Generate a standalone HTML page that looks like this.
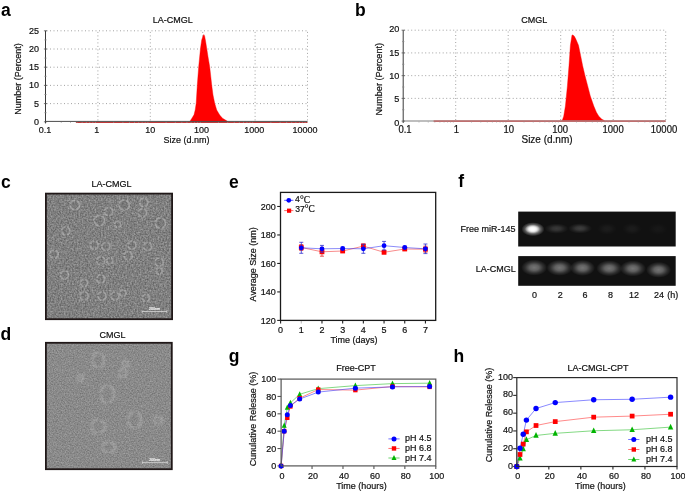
<!DOCTYPE html>
<html><head><meta charset="utf-8"><style>
html,body{margin:0;padding:0;background:#fff;}
svg{display:block;font-family:"Liberation Sans", sans-serif;will-change:transform;}

</style></head><body>
<svg width="685" height="493" viewBox="0 0 685 493">
<defs>
<filter id="noiseC" x="0" y="0" width="100%" height="100%" color-interpolation-filters="sRGB">
<feTurbulence type="fractalNoise" baseFrequency="0.62" numOctaves="2" seed="3" result="t"/>
<feColorMatrix type="matrix" values="0.38 0 0 0 0.31  0.38 0 0 0 0.31  0.38 0 0 0 0.31  0 0 0 0 1" in="t" result="n0"/>
<feGaussianBlur in="n0" stdDeviation="0.45" result="n"/>
<feComposite in="n" in2="SourceGraphic" operator="in"/>
</filter>
<filter id="noiseD" x="0" y="0" width="100%" height="100%" color-interpolation-filters="sRGB">
<feTurbulence type="fractalNoise" baseFrequency="0.75" numOctaves="2" seed="7" result="t"/>
<feColorMatrix type="matrix" values="0.28 0 0 0 0.4  0.28 0 0 0 0.4  0.28 0 0 0 0.4  0 0 0 0 1" in="t" result="n0"/>
<feGaussianBlur in="n0" stdDeviation="0.45" result="n"/>
<feComposite in="n" in2="SourceGraphic" operator="in"/>
</filter>
<filter id="blur04" x="-50%" y="-50%" width="200%" height="200%"><feGaussianBlur stdDeviation="0.45"/></filter>
<filter id="blur05" x="-50%" y="-50%" width="200%" height="200%"><feGaussianBlur stdDeviation="0.85"/></filter>
<radialGradient id="band"><stop offset="0" stop-color="#fff" stop-opacity="1"/><stop offset="0.35" stop-color="#fff" stop-opacity="0.8"/><stop offset="0.7" stop-color="#fff" stop-opacity="0.3"/><stop offset="1" stop-color="#fff" stop-opacity="0"/></radialGradient>
<filter id="blur2" x="-50%" y="-80%" width="200%" height="260%"><feGaussianBlur stdDeviation="2.2"/></filter>
</defs>
<rect width="685" height="493" fill="#fff"/>
<text transform="translate(1.00 15.60)" font-size="17.5" text-anchor="start" font-weight="bold" fill="#000" stroke="#000" stroke-width="0" >a</text>
<text transform="translate(355.00 15.60)" font-size="17.5" text-anchor="start" font-weight="bold" fill="#000" stroke="#000" stroke-width="0" >b</text>
<text transform="translate(1.00 187.80)" font-size="17.5" text-anchor="start" font-weight="bold" fill="#000" stroke="#000" stroke-width="0" >c</text>
<text transform="translate(0.50 339.90)" font-size="17.5" text-anchor="start" font-weight="bold" fill="#000" stroke="#000" stroke-width="0" >d</text>
<text transform="translate(229.00 187.70)" font-size="17.5" text-anchor="start" font-weight="bold" fill="#000" stroke="#000" stroke-width="0" >e</text>
<text transform="translate(458.30 187.40)" font-size="17.5" text-anchor="start" font-weight="bold" fill="#000" stroke="#000" stroke-width="0" >f</text>
<text transform="translate(228.80 361.60)" font-size="17.5" text-anchor="start" font-weight="bold" fill="#000" stroke="#000" stroke-width="0" >g</text>
<text transform="translate(453.50 361.70)" font-size="17.5" text-anchor="start" font-weight="bold" fill="#000" stroke="#000" stroke-width="0" >h</text>
<line x1="46.50" y1="103.60" x2="307.50" y2="103.60" stroke="#999" stroke-width="0.9" stroke-dasharray="1 2.5"/>
<line x1="46.50" y1="85.40" x2="307.50" y2="85.40" stroke="#999" stroke-width="0.9" stroke-dasharray="1 2.5"/>
<line x1="46.50" y1="67.20" x2="307.50" y2="67.20" stroke="#999" stroke-width="0.9" stroke-dasharray="1 2.5"/>
<line x1="46.50" y1="49.00" x2="307.50" y2="49.00" stroke="#999" stroke-width="0.9" stroke-dasharray="1 2.5"/>
<line x1="46.50" y1="30.80" x2="307.50" y2="30.80" stroke="#999" stroke-width="0.9" stroke-dasharray="1 2.5"/>
<line x1="97.90" y1="120.40" x2="97.90" y2="30.80" stroke="#999" stroke-width="0.9" stroke-dasharray="1 2.5"/>
<line x1="150.30" y1="120.40" x2="150.30" y2="30.80" stroke="#999" stroke-width="0.9" stroke-dasharray="1 2.5"/>
<line x1="202.70" y1="120.40" x2="202.70" y2="30.80" stroke="#999" stroke-width="0.9" stroke-dasharray="1 2.5"/>
<line x1="255.10" y1="120.40" x2="255.10" y2="30.80" stroke="#999" stroke-width="0.9" stroke-dasharray="1 2.5"/>
<line x1="307.50" y1="120.40" x2="307.50" y2="30.80" stroke="#999" stroke-width="0.9" stroke-dasharray="1 2.5"/>
<polyline points="190.00,121.80 190.30,120.70 191.90,118.30 194.00,114.80 195.20,110.00 196.20,103.30 197.30,85.00 198.70,66.70 200.50,48.30 201.70,40.00 203.00,36.00 203.80,34.60 204.60,36.00 205.60,41.20 206.70,48.30 208.00,56.70 209.70,66.70 210.80,76.70 211.70,85.00 213.00,95.00 214.70,103.30 216.70,110.00 219.70,115.00 222.50,118.30 226.70,120.80 228.00,121.80" fill="#ff0000" stroke="#ff0000" stroke-width="0.4" />
<line x1="45.50" y1="121.40" x2="307.50" y2="121.40" stroke="#4a4a4a" stroke-width="1.0" />
<line x1="75.88" y1="122.50" x2="307.50" y2="122.50" stroke="#c03838" stroke-width="1.0" />
<line x1="45.50" y1="30.80" x2="45.50" y2="123.40" stroke="#3a3a3a" stroke-width="1.0" />
<line x1="43.90" y1="121.80" x2="47.10" y2="121.80" stroke="#555" stroke-width="0.8" />
<line x1="44.30" y1="112.70" x2="46.70" y2="112.70" stroke="#888" stroke-width="0.7" />
<line x1="43.90" y1="103.60" x2="47.10" y2="103.60" stroke="#555" stroke-width="0.8" />
<line x1="44.30" y1="94.50" x2="46.70" y2="94.50" stroke="#888" stroke-width="0.7" />
<line x1="43.90" y1="85.40" x2="47.10" y2="85.40" stroke="#555" stroke-width="0.8" />
<line x1="44.30" y1="76.30" x2="46.70" y2="76.30" stroke="#888" stroke-width="0.7" />
<line x1="43.90" y1="67.20" x2="47.10" y2="67.20" stroke="#555" stroke-width="0.8" />
<line x1="44.30" y1="58.10" x2="46.70" y2="58.10" stroke="#888" stroke-width="0.7" />
<line x1="43.90" y1="49.00" x2="47.10" y2="49.00" stroke="#555" stroke-width="0.8" />
<line x1="44.30" y1="39.90" x2="46.70" y2="39.90" stroke="#888" stroke-width="0.7" />
<line x1="43.90" y1="30.80" x2="47.10" y2="30.80" stroke="#555" stroke-width="0.8" />
<line x1="61.27" y1="121.90" x2="61.27" y2="123.00" stroke="#999" stroke-width="0.6" />
<line x1="70.50" y1="121.90" x2="70.50" y2="123.00" stroke="#999" stroke-width="0.6" />
<line x1="77.05" y1="121.90" x2="77.05" y2="123.00" stroke="#999" stroke-width="0.6" />
<line x1="82.13" y1="121.90" x2="82.13" y2="123.00" stroke="#999" stroke-width="0.6" />
<line x1="86.28" y1="121.90" x2="86.28" y2="123.00" stroke="#999" stroke-width="0.6" />
<line x1="89.78" y1="121.90" x2="89.78" y2="123.00" stroke="#999" stroke-width="0.6" />
<line x1="92.82" y1="121.90" x2="92.82" y2="123.00" stroke="#999" stroke-width="0.6" />
<line x1="95.50" y1="121.90" x2="95.50" y2="123.00" stroke="#999" stroke-width="0.6" />
<line x1="113.67" y1="121.90" x2="113.67" y2="123.00" stroke="#999" stroke-width="0.6" />
<line x1="122.90" y1="121.90" x2="122.90" y2="123.00" stroke="#999" stroke-width="0.6" />
<line x1="129.45" y1="121.90" x2="129.45" y2="123.00" stroke="#999" stroke-width="0.6" />
<line x1="134.53" y1="121.90" x2="134.53" y2="123.00" stroke="#999" stroke-width="0.6" />
<line x1="138.68" y1="121.90" x2="138.68" y2="123.00" stroke="#999" stroke-width="0.6" />
<line x1="142.18" y1="121.90" x2="142.18" y2="123.00" stroke="#999" stroke-width="0.6" />
<line x1="145.22" y1="121.90" x2="145.22" y2="123.00" stroke="#999" stroke-width="0.6" />
<line x1="147.90" y1="121.90" x2="147.90" y2="123.00" stroke="#999" stroke-width="0.6" />
<line x1="166.07" y1="121.90" x2="166.07" y2="123.00" stroke="#999" stroke-width="0.6" />
<line x1="175.30" y1="121.90" x2="175.30" y2="123.00" stroke="#999" stroke-width="0.6" />
<line x1="181.85" y1="121.90" x2="181.85" y2="123.00" stroke="#999" stroke-width="0.6" />
<line x1="186.93" y1="121.90" x2="186.93" y2="123.00" stroke="#999" stroke-width="0.6" />
<line x1="191.08" y1="121.90" x2="191.08" y2="123.00" stroke="#999" stroke-width="0.6" />
<line x1="194.58" y1="121.90" x2="194.58" y2="123.00" stroke="#999" stroke-width="0.6" />
<line x1="197.62" y1="121.90" x2="197.62" y2="123.00" stroke="#999" stroke-width="0.6" />
<line x1="200.30" y1="121.90" x2="200.30" y2="123.00" stroke="#999" stroke-width="0.6" />
<line x1="218.47" y1="121.90" x2="218.47" y2="123.00" stroke="#999" stroke-width="0.6" />
<line x1="227.70" y1="121.90" x2="227.70" y2="123.00" stroke="#999" stroke-width="0.6" />
<line x1="234.25" y1="121.90" x2="234.25" y2="123.00" stroke="#999" stroke-width="0.6" />
<line x1="239.33" y1="121.90" x2="239.33" y2="123.00" stroke="#999" stroke-width="0.6" />
<line x1="243.48" y1="121.90" x2="243.48" y2="123.00" stroke="#999" stroke-width="0.6" />
<line x1="246.98" y1="121.90" x2="246.98" y2="123.00" stroke="#999" stroke-width="0.6" />
<line x1="250.02" y1="121.90" x2="250.02" y2="123.00" stroke="#999" stroke-width="0.6" />
<line x1="252.70" y1="121.90" x2="252.70" y2="123.00" stroke="#999" stroke-width="0.6" />
<line x1="270.87" y1="121.90" x2="270.87" y2="123.00" stroke="#999" stroke-width="0.6" />
<line x1="280.10" y1="121.90" x2="280.10" y2="123.00" stroke="#999" stroke-width="0.6" />
<line x1="286.65" y1="121.90" x2="286.65" y2="123.00" stroke="#999" stroke-width="0.6" />
<line x1="291.73" y1="121.90" x2="291.73" y2="123.00" stroke="#999" stroke-width="0.6" />
<line x1="295.88" y1="121.90" x2="295.88" y2="123.00" stroke="#999" stroke-width="0.6" />
<line x1="299.38" y1="121.90" x2="299.38" y2="123.00" stroke="#999" stroke-width="0.6" />
<line x1="302.42" y1="121.90" x2="302.42" y2="123.00" stroke="#999" stroke-width="0.6" />
<line x1="305.10" y1="121.90" x2="305.10" y2="123.00" stroke="#999" stroke-width="0.6" />
<text transform="translate(39.10 124.70) scale(1 1.08)" font-size="9" text-anchor="end" font-weight="normal" fill="#111" stroke="#111" stroke-width="0.2" >0</text>
<text transform="translate(39.10 106.50) scale(1 1.08)" font-size="9" text-anchor="end" font-weight="normal" fill="#111" stroke="#111" stroke-width="0.2" >5</text>
<text transform="translate(39.10 88.30) scale(1 1.08)" font-size="9" text-anchor="end" font-weight="normal" fill="#111" stroke="#111" stroke-width="0.2" >10</text>
<text transform="translate(39.10 70.10) scale(1 1.08)" font-size="9" text-anchor="end" font-weight="normal" fill="#111" stroke="#111" stroke-width="0.2" >15</text>
<text transform="translate(39.10 51.90) scale(1 1.08)" font-size="9" text-anchor="end" font-weight="normal" fill="#111" stroke="#111" stroke-width="0.2" >20</text>
<text transform="translate(39.10 33.70) scale(1 1.08)" font-size="9" text-anchor="end" font-weight="normal" fill="#111" stroke="#111" stroke-width="0.2" >25</text>
<text transform="translate(45.00 133.00) scale(1 1.08)" font-size="9" text-anchor="middle" font-weight="normal" fill="#111" stroke="#111" stroke-width="0.2" >0.1</text>
<text transform="translate(96.80 133.00) scale(1 1.08)" font-size="9" text-anchor="middle" font-weight="normal" fill="#111" stroke="#111" stroke-width="0.2" >1</text>
<text transform="translate(150.30 133.00) scale(1 1.08)" font-size="9" text-anchor="middle" font-weight="normal" fill="#111" stroke="#111" stroke-width="0.2" >10</text>
<text transform="translate(201.50 133.00) scale(1 1.08)" font-size="9" text-anchor="middle" font-weight="normal" fill="#111" stroke="#111" stroke-width="0.2" >100</text>
<text transform="translate(254.20 133.00) scale(1 1.08)" font-size="9" text-anchor="middle" font-weight="normal" fill="#111" stroke="#111" stroke-width="0.2" >1000</text>
<text transform="translate(305.00 133.00) scale(1 1.08)" font-size="9" text-anchor="middle" font-weight="normal" fill="#111" stroke="#111" stroke-width="0.2" >10000</text>
<text transform="translate(186.40 143.40) scale(1 1.08)" font-size="9" text-anchor="middle" font-weight="normal" fill="#111" stroke="#111" stroke-width="0.2" >Size (d.nm)</text>
<text transform="translate(172.80 23.20) scale(1 1.08)" font-size="9" text-anchor="middle" font-weight="normal" fill="#111" stroke="#111" stroke-width="0.2" >LA-CMGL</text>
<text transform="translate(21.40 79.10) rotate(-90) scale(1 1.08)" font-size="9" text-anchor="middle" font-weight="normal" fill="#111" stroke="#111" stroke-width="0.2" >Number (Percent)</text>
<line x1="404.20" y1="98.38" x2="665.70" y2="98.38" stroke="#999" stroke-width="0.9" stroke-dasharray="1 2.5"/>
<line x1="404.20" y1="75.65" x2="665.70" y2="75.65" stroke="#999" stroke-width="0.9" stroke-dasharray="1 2.5"/>
<line x1="404.20" y1="52.92" x2="665.70" y2="52.92" stroke="#999" stroke-width="0.9" stroke-dasharray="1 2.5"/>
<line x1="404.20" y1="30.20" x2="665.70" y2="30.20" stroke="#999" stroke-width="0.9" stroke-dasharray="1 2.5"/>
<line x1="455.70" y1="120.00" x2="455.70" y2="30.20" stroke="#999" stroke-width="0.9" stroke-dasharray="1 2.5"/>
<line x1="508.20" y1="120.00" x2="508.20" y2="30.20" stroke="#999" stroke-width="0.9" stroke-dasharray="1 2.5"/>
<line x1="560.70" y1="120.00" x2="560.70" y2="30.20" stroke="#999" stroke-width="0.9" stroke-dasharray="1 2.5"/>
<line x1="613.20" y1="120.00" x2="613.20" y2="30.20" stroke="#999" stroke-width="0.9" stroke-dasharray="1 2.5"/>
<line x1="665.70" y1="120.00" x2="665.70" y2="30.20" stroke="#999" stroke-width="0.9" stroke-dasharray="1 2.5"/>
<polyline points="561.80,121.10 562.30,120.30 563.70,116.30 565.40,106.10 567.40,85.90 569.00,65.60 570.40,45.30 572.00,35.10 572.40,34.90 574.00,35.80 575.60,38.60 578.50,45.30 580.60,55.40 582.60,65.60 585.00,75.70 587.70,85.90 590.30,96.00 593.80,106.10 596.40,112.20 598.80,116.30 601.90,119.30 603.90,120.30 604.80,121.10" fill="#ff0000" stroke="#ff0000" stroke-width="0.4" />
<line x1="403.20" y1="121.00" x2="665.70" y2="121.00" stroke="#a8a8a8" stroke-width="1.6" />
<line x1="433.64" y1="121.10" x2="665.70" y2="121.10" stroke="#c03838" stroke-width="1.0" />
<line x1="403.20" y1="30.20" x2="403.20" y2="123.00" stroke="#3a3a3a" stroke-width="1.0" />
<line x1="401.60" y1="121.10" x2="404.80" y2="121.10" stroke="#555" stroke-width="0.8" />
<line x1="402.00" y1="109.74" x2="404.40" y2="109.74" stroke="#888" stroke-width="0.7" />
<line x1="401.60" y1="98.38" x2="404.80" y2="98.38" stroke="#555" stroke-width="0.8" />
<line x1="402.00" y1="87.01" x2="404.40" y2="87.01" stroke="#888" stroke-width="0.7" />
<line x1="401.60" y1="75.65" x2="404.80" y2="75.65" stroke="#555" stroke-width="0.8" />
<line x1="402.00" y1="64.29" x2="404.40" y2="64.29" stroke="#888" stroke-width="0.7" />
<line x1="401.60" y1="52.92" x2="404.80" y2="52.92" stroke="#555" stroke-width="0.8" />
<line x1="402.00" y1="41.56" x2="404.40" y2="41.56" stroke="#888" stroke-width="0.7" />
<line x1="401.60" y1="30.20" x2="404.80" y2="30.20" stroke="#555" stroke-width="0.8" />
<line x1="419.00" y1="121.50" x2="419.00" y2="122.60" stroke="#999" stroke-width="0.6" />
<line x1="428.25" y1="121.50" x2="428.25" y2="122.60" stroke="#999" stroke-width="0.6" />
<line x1="434.81" y1="121.50" x2="434.81" y2="122.60" stroke="#999" stroke-width="0.6" />
<line x1="439.90" y1="121.50" x2="439.90" y2="122.60" stroke="#999" stroke-width="0.6" />
<line x1="444.05" y1="121.50" x2="444.05" y2="122.60" stroke="#999" stroke-width="0.6" />
<line x1="447.57" y1="121.50" x2="447.57" y2="122.60" stroke="#999" stroke-width="0.6" />
<line x1="450.61" y1="121.50" x2="450.61" y2="122.60" stroke="#999" stroke-width="0.6" />
<line x1="453.30" y1="121.50" x2="453.30" y2="122.60" stroke="#999" stroke-width="0.6" />
<line x1="471.50" y1="121.50" x2="471.50" y2="122.60" stroke="#999" stroke-width="0.6" />
<line x1="480.75" y1="121.50" x2="480.75" y2="122.60" stroke="#999" stroke-width="0.6" />
<line x1="487.31" y1="121.50" x2="487.31" y2="122.60" stroke="#999" stroke-width="0.6" />
<line x1="492.40" y1="121.50" x2="492.40" y2="122.60" stroke="#999" stroke-width="0.6" />
<line x1="496.55" y1="121.50" x2="496.55" y2="122.60" stroke="#999" stroke-width="0.6" />
<line x1="500.07" y1="121.50" x2="500.07" y2="122.60" stroke="#999" stroke-width="0.6" />
<line x1="503.11" y1="121.50" x2="503.11" y2="122.60" stroke="#999" stroke-width="0.6" />
<line x1="505.80" y1="121.50" x2="505.80" y2="122.60" stroke="#999" stroke-width="0.6" />
<line x1="524.00" y1="121.50" x2="524.00" y2="122.60" stroke="#999" stroke-width="0.6" />
<line x1="533.25" y1="121.50" x2="533.25" y2="122.60" stroke="#999" stroke-width="0.6" />
<line x1="539.81" y1="121.50" x2="539.81" y2="122.60" stroke="#999" stroke-width="0.6" />
<line x1="544.90" y1="121.50" x2="544.90" y2="122.60" stroke="#999" stroke-width="0.6" />
<line x1="549.05" y1="121.50" x2="549.05" y2="122.60" stroke="#999" stroke-width="0.6" />
<line x1="552.57" y1="121.50" x2="552.57" y2="122.60" stroke="#999" stroke-width="0.6" />
<line x1="555.61" y1="121.50" x2="555.61" y2="122.60" stroke="#999" stroke-width="0.6" />
<line x1="558.30" y1="121.50" x2="558.30" y2="122.60" stroke="#999" stroke-width="0.6" />
<line x1="576.50" y1="121.50" x2="576.50" y2="122.60" stroke="#999" stroke-width="0.6" />
<line x1="585.75" y1="121.50" x2="585.75" y2="122.60" stroke="#999" stroke-width="0.6" />
<line x1="592.31" y1="121.50" x2="592.31" y2="122.60" stroke="#999" stroke-width="0.6" />
<line x1="597.40" y1="121.50" x2="597.40" y2="122.60" stroke="#999" stroke-width="0.6" />
<line x1="601.55" y1="121.50" x2="601.55" y2="122.60" stroke="#999" stroke-width="0.6" />
<line x1="605.07" y1="121.50" x2="605.07" y2="122.60" stroke="#999" stroke-width="0.6" />
<line x1="608.11" y1="121.50" x2="608.11" y2="122.60" stroke="#999" stroke-width="0.6" />
<line x1="610.80" y1="121.50" x2="610.80" y2="122.60" stroke="#999" stroke-width="0.6" />
<line x1="629.00" y1="121.50" x2="629.00" y2="122.60" stroke="#999" stroke-width="0.6" />
<line x1="638.25" y1="121.50" x2="638.25" y2="122.60" stroke="#999" stroke-width="0.6" />
<line x1="644.81" y1="121.50" x2="644.81" y2="122.60" stroke="#999" stroke-width="0.6" />
<line x1="649.90" y1="121.50" x2="649.90" y2="122.60" stroke="#999" stroke-width="0.6" />
<line x1="654.05" y1="121.50" x2="654.05" y2="122.60" stroke="#999" stroke-width="0.6" />
<line x1="657.57" y1="121.50" x2="657.57" y2="122.60" stroke="#999" stroke-width="0.6" />
<line x1="660.61" y1="121.50" x2="660.61" y2="122.60" stroke="#999" stroke-width="0.6" />
<line x1="663.30" y1="121.50" x2="663.30" y2="122.60" stroke="#999" stroke-width="0.6" />
<text transform="translate(399.30 125.55) scale(1 1.08)" font-size="9.1" text-anchor="end" font-weight="normal" fill="#111" stroke="#111" stroke-width="0.2" >0</text>
<text transform="translate(399.30 102.05) scale(1 1.08)" font-size="9.1" text-anchor="end" font-weight="normal" fill="#111" stroke="#111" stroke-width="0.2" >5</text>
<text transform="translate(399.30 78.85) scale(1 1.08)" font-size="9.1" text-anchor="end" font-weight="normal" fill="#111" stroke="#111" stroke-width="0.2" >10</text>
<text transform="translate(399.30 55.55) scale(1 1.08)" font-size="9.1" text-anchor="end" font-weight="normal" fill="#111" stroke="#111" stroke-width="0.2" >15</text>
<text transform="translate(399.30 32.05) scale(1 1.08)" font-size="9.1" text-anchor="end" font-weight="normal" fill="#111" stroke="#111" stroke-width="0.2" >20</text>
<text transform="translate(405.00 132.50) scale(1 1.08)" font-size="9.5" text-anchor="middle" font-weight="normal" fill="#111" stroke="#111" stroke-width="0.2" >0.1</text>
<text transform="translate(456.40 132.50) scale(1 1.08)" font-size="9.5" text-anchor="middle" font-weight="normal" fill="#111" stroke="#111" stroke-width="0.2" >1</text>
<text transform="translate(508.70 132.50) scale(1 1.08)" font-size="9.5" text-anchor="middle" font-weight="normal" fill="#111" stroke="#111" stroke-width="0.2" >10</text>
<text transform="translate(560.10 132.50) scale(1 1.08)" font-size="9.5" text-anchor="middle" font-weight="normal" fill="#111" stroke="#111" stroke-width="0.2" >100</text>
<text transform="translate(613.10 132.50) scale(1 1.08)" font-size="9.5" text-anchor="middle" font-weight="normal" fill="#111" stroke="#111" stroke-width="0.2" >1000</text>
<text transform="translate(664.00 132.50) scale(1 1.08)" font-size="9.5" text-anchor="middle" font-weight="normal" fill="#111" stroke="#111" stroke-width="0.2" >10000</text>
<text transform="translate(547.00 143.40) scale(1 1.08)" font-size="10" text-anchor="middle" font-weight="normal" fill="#111" stroke="#111" stroke-width="0.2" >Size (d.nm)</text>
<text transform="translate(534.30 23.20) scale(1 1.08)" font-size="9" text-anchor="middle" font-weight="normal" fill="#111" stroke="#111" stroke-width="0.2" >CMGL</text>
<text transform="translate(381.80 79.20) rotate(-90) scale(1 1.08)" font-size="9.15" text-anchor="middle" font-weight="normal" fill="#111" stroke="#111" stroke-width="0.2" >Number (Percent)</text>
<text transform="translate(111.40 186.70) scale(1 1.08)" font-size="9" text-anchor="middle" font-weight="normal" fill="#111" stroke="#111" stroke-width="0.2" >LA-CMGL</text>
<rect x="46" y="193.8" width="126" height="125.2" fill="#888" filter="url(#noiseC)"/>
<ellipse cx="74.9" cy="205" rx="4.5" ry="4.5" fill="#606060" fill-opacity="0.2" stroke="#c8c8c8" stroke-width="1.7" stroke-opacity="0.45" stroke-dasharray="5.9 1.6" filter="url(#blur04)"/>
<ellipse cx="99.5" cy="220.6" rx="5" ry="5" fill="#606060" fill-opacity="0.2" stroke="#c8c8c8" stroke-width="1.7" stroke-opacity="0.45" stroke-dasharray="6.5 1.8" filter="url(#blur04)"/>
<ellipse cx="108.6" cy="211.5" rx="4" ry="4" fill="#606060" fill-opacity="0.2" stroke="#c8c8c8" stroke-width="1.7" stroke-opacity="0.45" stroke-dasharray="5.2 1.4" filter="url(#blur04)"/>
<ellipse cx="124.2" cy="205" rx="5" ry="5" fill="#606060" fill-opacity="0.2" stroke="#c8c8c8" stroke-width="1.7" stroke-opacity="0.45" stroke-dasharray="6.5 1.8" filter="url(#blur04)"/>
<ellipse cx="143.7" cy="202.4" rx="4" ry="4" fill="#606060" fill-opacity="0.2" stroke="#c8c8c8" stroke-width="1.7" stroke-opacity="0.45" stroke-dasharray="5.2 1.4" filter="url(#blur04)"/>
<ellipse cx="142.4" cy="212.8" rx="4" ry="4" fill="#606060" fill-opacity="0.2" stroke="#c8c8c8" stroke-width="1.7" stroke-opacity="0.45" stroke-dasharray="5.2 1.4" filter="url(#blur04)"/>
<ellipse cx="160.6" cy="223.2" rx="5" ry="5" fill="#606060" fill-opacity="0.2" stroke="#c8c8c8" stroke-width="1.7" stroke-opacity="0.45" stroke-dasharray="6.5 1.8" filter="url(#blur04)"/>
<ellipse cx="117.7" cy="224.5" rx="3" ry="3" fill="#606060" fill-opacity="0.2" stroke="#c8c8c8" stroke-width="1.7" stroke-opacity="0.45" stroke-dasharray="3.9 1.0" filter="url(#blur04)"/>
<ellipse cx="65.8" cy="231" rx="4" ry="4" fill="#606060" fill-opacity="0.2" stroke="#c8c8c8" stroke-width="1.7" stroke-opacity="0.45" stroke-dasharray="5.2 1.4" filter="url(#blur04)"/>
<ellipse cx="94.4" cy="245.2" rx="4" ry="4" fill="#606060" fill-opacity="0.2" stroke="#c8c8c8" stroke-width="1.7" stroke-opacity="0.45" stroke-dasharray="5.2 1.4" filter="url(#blur04)"/>
<ellipse cx="106" cy="246.5" rx="4" ry="4" fill="#606060" fill-opacity="0.2" stroke="#c8c8c8" stroke-width="1.7" stroke-opacity="0.45" stroke-dasharray="5.2 1.4" filter="url(#blur04)"/>
<ellipse cx="100.8" cy="260.8" rx="4" ry="4" fill="#606060" fill-opacity="0.2" stroke="#c8c8c8" stroke-width="1.7" stroke-opacity="0.45" stroke-dasharray="5.2 1.4" filter="url(#blur04)"/>
<ellipse cx="110" cy="260.8" rx="3" ry="3" fill="#606060" fill-opacity="0.2" stroke="#c8c8c8" stroke-width="1.7" stroke-opacity="0.45" stroke-dasharray="3.9 1.0" filter="url(#blur04)"/>
<ellipse cx="132" cy="245.2" rx="4" ry="4" fill="#606060" fill-opacity="0.2" stroke="#c8c8c8" stroke-width="1.7" stroke-opacity="0.45" stroke-dasharray="5.2 1.4" filter="url(#blur04)"/>
<ellipse cx="128.1" cy="255.6" rx="4" ry="4" fill="#606060" fill-opacity="0.2" stroke="#c8c8c8" stroke-width="1.7" stroke-opacity="0.45" stroke-dasharray="5.2 1.4" filter="url(#blur04)"/>
<ellipse cx="147.6" cy="246.5" rx="4" ry="4" fill="#606060" fill-opacity="0.2" stroke="#c8c8c8" stroke-width="1.7" stroke-opacity="0.45" stroke-dasharray="5.2 1.4" filter="url(#blur04)"/>
<ellipse cx="54" cy="254.3" rx="4" ry="4" fill="#606060" fill-opacity="0.2" stroke="#c8c8c8" stroke-width="1.7" stroke-opacity="0.45" stroke-dasharray="5.2 1.4" filter="url(#blur04)"/>
<ellipse cx="159.3" cy="262" rx="4" ry="4" fill="#606060" fill-opacity="0.2" stroke="#c8c8c8" stroke-width="1.7" stroke-opacity="0.45" stroke-dasharray="5.2 1.4" filter="url(#blur04)"/>
<ellipse cx="159.3" cy="271" rx="3" ry="3" fill="#606060" fill-opacity="0.2" stroke="#c8c8c8" stroke-width="1.7" stroke-opacity="0.45" stroke-dasharray="3.9 1.0" filter="url(#blur04)"/>
<ellipse cx="64.5" cy="275" rx="4" ry="4" fill="#606060" fill-opacity="0.2" stroke="#c8c8c8" stroke-width="1.7" stroke-opacity="0.45" stroke-dasharray="5.2 1.4" filter="url(#blur04)"/>
<ellipse cx="84" cy="283" rx="3.5" ry="3.5" fill="#606060" fill-opacity="0.2" stroke="#c8c8c8" stroke-width="1.7" stroke-opacity="0.45" stroke-dasharray="4.5 1.2" filter="url(#blur04)"/>
<ellipse cx="100.8" cy="279" rx="4" ry="4" fill="#606060" fill-opacity="0.2" stroke="#c8c8c8" stroke-width="1.7" stroke-opacity="0.45" stroke-dasharray="5.2 1.4" filter="url(#blur04)"/>
<ellipse cx="84" cy="296" rx="4" ry="4" fill="#606060" fill-opacity="0.2" stroke="#c8c8c8" stroke-width="1.7" stroke-opacity="0.45" stroke-dasharray="5.2 1.4" filter="url(#blur04)"/>
<ellipse cx="102" cy="296" rx="4" ry="4" fill="#606060" fill-opacity="0.2" stroke="#c8c8c8" stroke-width="1.7" stroke-opacity="0.45" stroke-dasharray="5.2 1.4" filter="url(#blur04)"/>
<ellipse cx="115" cy="296" rx="4" ry="4" fill="#606060" fill-opacity="0.2" stroke="#c8c8c8" stroke-width="1.7" stroke-opacity="0.45" stroke-dasharray="5.2 1.4" filter="url(#blur04)"/>
<ellipse cx="146" cy="298" rx="3.5" ry="3.5" fill="#606060" fill-opacity="0.2" stroke="#c8c8c8" stroke-width="1.7" stroke-opacity="0.45" stroke-dasharray="4.5 1.2" filter="url(#blur04)"/>
<ellipse cx="123" cy="293" rx="3" ry="3" fill="#606060" fill-opacity="0.2" stroke="#c8c8c8" stroke-width="1.7" stroke-opacity="0.45" stroke-dasharray="3.9 1.0" filter="url(#blur04)"/>
<line x1="142.20" y1="311.50" x2="166.90" y2="311.50" stroke="#e0e0e0" stroke-width="0.7" />
<line x1="142.20" y1="310.20" x2="142.20" y2="312.80" stroke="#eee" stroke-width="0.6" />
<line x1="166.90" y1="310.20" x2="166.90" y2="312.80" stroke="#eee" stroke-width="0.6" />
<text transform="translate(154.55 309.80) scale(1 1.08)" font-size="3.6" text-anchor="middle" font-weight="normal" fill="#eee" stroke="#eee" stroke-width="0.2" >200nm</text>
<rect x="45.9" y="193.60000000000002" width="126.2" height="125.60000000000001" fill="none" stroke="#201818" stroke-width="1.8"/>
<text transform="translate(112.40 337.70) scale(1 1.08)" font-size="9" text-anchor="middle" font-weight="normal" fill="#111" stroke="#111" stroke-width="0.2" >CMGL</text>
<rect x="46" y="343" width="125.7" height="126" fill="#888" filter="url(#noiseD)"/>
<ellipse cx="98.2" cy="360.2" rx="5.7" ry="7.3" fill="#606060" fill-opacity="0.08" stroke="#c8c8c8" stroke-width="2.2" stroke-opacity="0.42" stroke-dasharray="8.5 2.3" filter="url(#blur05)"/>
<ellipse cx="122.9" cy="373.2" rx="3.5" ry="4" fill="#606060" fill-opacity="0.08" stroke="#c8c8c8" stroke-width="2.2" stroke-opacity="0.42" stroke-dasharray="4.9 1.3" filter="url(#blur05)"/>
<ellipse cx="107.3" cy="394" rx="6.5" ry="9" fill="#606060" fill-opacity="0.08" stroke="#c8c8c8" stroke-width="2.2" stroke-opacity="0.42" stroke-dasharray="10.1 2.7" filter="url(#blur05)"/>
<ellipse cx="98.2" cy="426.4" rx="7" ry="6.5" fill="#606060" fill-opacity="0.08" stroke="#c8c8c8" stroke-width="2.2" stroke-opacity="0.42" stroke-dasharray="8.8 2.4" filter="url(#blur05)"/>
<ellipse cx="134.6" cy="420" rx="6.5" ry="8" fill="#606060" fill-opacity="0.08" stroke="#c8c8c8" stroke-width="2.2" stroke-opacity="0.42" stroke-dasharray="9.4 2.5" filter="url(#blur05)"/>
<ellipse cx="108.6" cy="447.2" rx="6.5" ry="5" fill="#606060" fill-opacity="0.08" stroke="#c8c8c8" stroke-width="2.2" stroke-opacity="0.42" stroke-dasharray="7.5 2.0" filter="url(#blur05)"/>
<ellipse cx="125.5" cy="364" rx="3" ry="3" fill="#606060" fill-opacity="0.08" stroke="#c8c8c8" stroke-width="2.2" stroke-opacity="0.42" stroke-dasharray="3.9 1.0" filter="url(#blur05)"/>
<ellipse cx="158" cy="420" rx="4" ry="3.5" fill="#606060" fill-opacity="0.08" stroke="#c8c8c8" stroke-width="2.2" stroke-opacity="0.42" stroke-dasharray="4.9 1.3" filter="url(#blur05)"/>
<ellipse cx="80" cy="378" rx="3" ry="3" fill="#606060" fill-opacity="0.08" stroke="#c8c8c8" stroke-width="2.2" stroke-opacity="0.42" stroke-dasharray="3.9 1.0" filter="url(#blur05)"/>
<line x1="142.30" y1="462.60" x2="167.30" y2="462.60" stroke="#e0e0e0" stroke-width="0.7" />
<line x1="142.30" y1="461.30" x2="142.30" y2="463.90" stroke="#eee" stroke-width="0.6" />
<line x1="167.30" y1="461.30" x2="167.30" y2="463.90" stroke="#eee" stroke-width="0.6" />
<text transform="translate(154.80 460.90) scale(1 1.08)" font-size="3.6" text-anchor="middle" font-weight="normal" fill="#eee" stroke="#eee" stroke-width="0.2" >200nm</text>
<rect x="45.9" y="342.8" width="125.9" height="126.4" fill="none" stroke="#201818" stroke-width="1.8"/>
<line x1="277.20" y1="320.40" x2="280.50" y2="320.40" stroke="#222" stroke-width="1.1" />
<text transform="translate(275.80 323.70) scale(1 1.08)" font-size="9" text-anchor="end" font-weight="normal" fill="#111" stroke="#111" stroke-width="0.2" >120</text>
<line x1="277.20" y1="291.92" x2="280.50" y2="291.92" stroke="#222" stroke-width="1.1" />
<text transform="translate(275.80 295.22) scale(1 1.08)" font-size="9" text-anchor="end" font-weight="normal" fill="#111" stroke="#111" stroke-width="0.2" >140</text>
<line x1="277.20" y1="263.44" x2="280.50" y2="263.44" stroke="#222" stroke-width="1.1" />
<text transform="translate(275.80 266.74) scale(1 1.08)" font-size="9" text-anchor="end" font-weight="normal" fill="#111" stroke="#111" stroke-width="0.2" >160</text>
<line x1="277.20" y1="234.96" x2="280.50" y2="234.96" stroke="#222" stroke-width="1.1" />
<text transform="translate(275.80 238.26) scale(1 1.08)" font-size="9" text-anchor="end" font-weight="normal" fill="#111" stroke="#111" stroke-width="0.2" >180</text>
<line x1="277.20" y1="206.48" x2="280.50" y2="206.48" stroke="#222" stroke-width="1.1" />
<text transform="translate(275.80 209.78) scale(1 1.08)" font-size="9" text-anchor="end" font-weight="normal" fill="#111" stroke="#111" stroke-width="0.2" >200</text>
<line x1="280.60" y1="320.40" x2="280.60" y2="323.40" stroke="#222" stroke-width="1.1" />
<text transform="translate(280.60 332.80) scale(1 1.08)" font-size="9" text-anchor="middle" font-weight="normal" fill="#111" stroke="#111" stroke-width="0.2" >0</text>
<line x1="301.29" y1="320.40" x2="301.29" y2="323.40" stroke="#bbb" stroke-width="1.1" />
<text transform="translate(301.29 332.80) scale(1 1.08)" font-size="9" text-anchor="middle" font-weight="normal" fill="#111" stroke="#111" stroke-width="0.2" >1</text>
<line x1="321.98" y1="320.40" x2="321.98" y2="323.40" stroke="#222" stroke-width="1.1" />
<text transform="translate(321.98 332.80) scale(1 1.08)" font-size="9" text-anchor="middle" font-weight="normal" fill="#111" stroke="#111" stroke-width="0.2" >2</text>
<line x1="342.67" y1="320.40" x2="342.67" y2="323.40" stroke="#222" stroke-width="1.1" />
<text transform="translate(342.67 332.80) scale(1 1.08)" font-size="9" text-anchor="middle" font-weight="normal" fill="#111" stroke="#111" stroke-width="0.2" >3</text>
<line x1="363.36" y1="320.40" x2="363.36" y2="323.40" stroke="#222" stroke-width="1.1" />
<text transform="translate(363.36 332.80) scale(1 1.08)" font-size="9" text-anchor="middle" font-weight="normal" fill="#111" stroke="#111" stroke-width="0.2" >4</text>
<line x1="384.05" y1="320.40" x2="384.05" y2="323.40" stroke="#222" stroke-width="1.1" />
<text transform="translate(384.05 332.80) scale(1 1.08)" font-size="9" text-anchor="middle" font-weight="normal" fill="#111" stroke="#111" stroke-width="0.2" >5</text>
<line x1="404.74" y1="320.40" x2="404.74" y2="323.40" stroke="#222" stroke-width="1.1" />
<text transform="translate(404.74 332.80) scale(1 1.08)" font-size="9" text-anchor="middle" font-weight="normal" fill="#111" stroke="#111" stroke-width="0.2" >6</text>
<line x1="425.43" y1="320.40" x2="425.43" y2="323.40" stroke="#222" stroke-width="1.1" />
<text transform="translate(425.43 332.80) scale(1 1.08)" font-size="9" text-anchor="middle" font-weight="normal" fill="#111" stroke="#111" stroke-width="0.2" >7</text>
<text transform="translate(354.00 342.80) scale(1 1.08)" font-size="9" text-anchor="middle" font-weight="normal" fill="#111" stroke="#111" stroke-width="0.2" >Time (days)</text>
<text transform="translate(256.30 264.30) rotate(-90) scale(1 1.08)" font-size="9" text-anchor="middle" font-weight="normal" fill="#111" stroke="#111" stroke-width="0.2" >Average Size (nm)</text>
<polyline points="301.29,247.50 321.98,251.80 342.67,251.00 363.36,246.10 384.05,252.30 404.74,249.00 425.43,249.20" fill="none" stroke="#f01818" stroke-width="0.5" />
<line x1="301.29" y1="244.50" x2="301.29" y2="250.50" stroke="#e03030" stroke-width="0.8" />
<line x1="299.29" y1="244.50" x2="303.29" y2="244.50" stroke="#e03030" stroke-width="0.8" />
<line x1="299.29" y1="250.50" x2="303.29" y2="250.50" stroke="#e03030" stroke-width="0.8" />
<rect x="298.89" y="245.10" width="4.8" height="4.8" fill="#ff0000"/>
<line x1="321.98" y1="247.40" x2="321.98" y2="256.20" stroke="#e03030" stroke-width="0.8" />
<line x1="319.98" y1="247.40" x2="323.98" y2="247.40" stroke="#e03030" stroke-width="0.8" />
<line x1="319.98" y1="256.20" x2="323.98" y2="256.20" stroke="#e03030" stroke-width="0.8" />
<rect x="319.58" y="249.40" width="4.8" height="4.8" fill="#ff0000"/>
<line x1="342.67" y1="249.80" x2="342.67" y2="252.20" stroke="#e03030" stroke-width="0.8" />
<line x1="340.67" y1="249.80" x2="344.67" y2="249.80" stroke="#e03030" stroke-width="0.8" />
<line x1="340.67" y1="252.20" x2="344.67" y2="252.20" stroke="#e03030" stroke-width="0.8" />
<rect x="340.27" y="248.60" width="4.8" height="4.8" fill="#ff0000"/>
<line x1="363.36" y1="243.90" x2="363.36" y2="248.30" stroke="#e03030" stroke-width="0.8" />
<line x1="361.36" y1="243.90" x2="365.36" y2="243.90" stroke="#e03030" stroke-width="0.8" />
<line x1="361.36" y1="248.30" x2="365.36" y2="248.30" stroke="#e03030" stroke-width="0.8" />
<rect x="360.96" y="243.70" width="4.8" height="4.8" fill="#ff0000"/>
<line x1="384.05" y1="250.90" x2="384.05" y2="253.70" stroke="#e03030" stroke-width="0.8" />
<line x1="382.05" y1="250.90" x2="386.05" y2="250.90" stroke="#e03030" stroke-width="0.8" />
<line x1="382.05" y1="253.70" x2="386.05" y2="253.70" stroke="#e03030" stroke-width="0.8" />
<rect x="381.65" y="249.90" width="4.8" height="4.8" fill="#ff0000"/>
<line x1="404.74" y1="247.80" x2="404.74" y2="250.20" stroke="#e03030" stroke-width="0.8" />
<line x1="402.74" y1="247.80" x2="406.74" y2="247.80" stroke="#e03030" stroke-width="0.8" />
<line x1="402.74" y1="250.20" x2="406.74" y2="250.20" stroke="#e03030" stroke-width="0.8" />
<rect x="402.34" y="246.60" width="4.8" height="4.8" fill="#ff0000"/>
<line x1="425.43" y1="246.20" x2="425.43" y2="252.20" stroke="#e03030" stroke-width="0.8" />
<line x1="423.43" y1="246.20" x2="427.43" y2="246.20" stroke="#e03030" stroke-width="0.8" />
<line x1="423.43" y1="252.20" x2="427.43" y2="252.20" stroke="#e03030" stroke-width="0.8" />
<rect x="423.03" y="246.80" width="4.8" height="4.8" fill="#ff0000"/>
<polyline points="301.29,247.80 321.98,248.80 342.67,248.50 363.36,248.80 384.05,245.70 404.74,247.50 425.43,248.80" fill="none" stroke="#1818f0" stroke-width="0.5" />
<line x1="301.29" y1="242.30" x2="301.29" y2="253.30" stroke="#3030d0" stroke-width="0.8" />
<line x1="299.29" y1="242.30" x2="303.29" y2="242.30" stroke="#3030d0" stroke-width="0.8" />
<line x1="299.29" y1="253.30" x2="303.29" y2="253.30" stroke="#3030d0" stroke-width="0.8" />
<circle cx="301.29" cy="247.80" r="2.4" fill="#0000ff"/>
<line x1="321.98" y1="245.40" x2="321.98" y2="252.20" stroke="#3030d0" stroke-width="0.8" />
<line x1="319.98" y1="245.40" x2="323.98" y2="245.40" stroke="#3030d0" stroke-width="0.8" />
<line x1="319.98" y1="252.20" x2="323.98" y2="252.20" stroke="#3030d0" stroke-width="0.8" />
<circle cx="321.98" cy="248.80" r="2.4" fill="#0000ff"/>
<line x1="342.67" y1="247.30" x2="342.67" y2="249.70" stroke="#3030d0" stroke-width="0.8" />
<line x1="340.67" y1="247.30" x2="344.67" y2="247.30" stroke="#3030d0" stroke-width="0.8" />
<line x1="340.67" y1="249.70" x2="344.67" y2="249.70" stroke="#3030d0" stroke-width="0.8" />
<circle cx="342.67" cy="248.50" r="2.4" fill="#0000ff"/>
<line x1="363.36" y1="244.30" x2="363.36" y2="253.30" stroke="#3030d0" stroke-width="0.8" />
<line x1="361.36" y1="244.30" x2="365.36" y2="244.30" stroke="#3030d0" stroke-width="0.8" />
<line x1="361.36" y1="253.30" x2="365.36" y2="253.30" stroke="#3030d0" stroke-width="0.8" />
<circle cx="363.36" cy="248.80" r="2.4" fill="#0000ff"/>
<line x1="384.05" y1="241.40" x2="384.05" y2="250.00" stroke="#3030d0" stroke-width="0.8" />
<line x1="382.05" y1="241.40" x2="386.05" y2="241.40" stroke="#3030d0" stroke-width="0.8" />
<line x1="382.05" y1="250.00" x2="386.05" y2="250.00" stroke="#3030d0" stroke-width="0.8" />
<circle cx="384.05" cy="245.70" r="2.4" fill="#0000ff"/>
<line x1="404.74" y1="246.30" x2="404.74" y2="248.70" stroke="#3030d0" stroke-width="0.8" />
<line x1="402.74" y1="246.30" x2="406.74" y2="246.30" stroke="#3030d0" stroke-width="0.8" />
<line x1="402.74" y1="248.70" x2="406.74" y2="248.70" stroke="#3030d0" stroke-width="0.8" />
<circle cx="404.74" cy="247.50" r="2.4" fill="#0000ff"/>
<line x1="425.43" y1="244.00" x2="425.43" y2="253.60" stroke="#3030d0" stroke-width="0.8" />
<line x1="423.43" y1="244.00" x2="427.43" y2="244.00" stroke="#3030d0" stroke-width="0.8" />
<line x1="423.43" y1="253.60" x2="427.43" y2="253.60" stroke="#3030d0" stroke-width="0.8" />
<circle cx="425.43" cy="248.80" r="2.4" fill="#0000ff"/>
<rect x="280.5" y="192.4" width="155.2" height="127.99999999999997" fill="none" stroke="#1a1a1a" stroke-width="1.3"/>
<line x1="284.20" y1="200.30" x2="293.40" y2="200.30" stroke="#3030ff" stroke-width="0.8" />
<circle cx="288.8" cy="200.3" r="2.4" fill="#0000ff"/>
<line x1="284.20" y1="210.60" x2="293.40" y2="210.60" stroke="#ff4040" stroke-width="0.8" />
<rect x="287" y="208.6" width="4.2" height="4.2" fill="#ff0000"/>
<text transform="translate(295.00 202.40) scale(1 1.08)" font-size="8.6" text-anchor="start" font-weight="normal" fill="#111" stroke="#111" stroke-width="0.2" >4</text>
<text transform="translate(300.00 202.60) scale(1 1.08)" font-size="9.4" text-anchor="start" font-weight="normal" fill="#111" stroke="#111" stroke-width="0.2" font-family="'Liberation Serif', serif">&#176;C</text>
<text transform="translate(295.20 212.00) scale(1 1.08)" font-size="8.6" text-anchor="start" font-weight="normal" fill="#111" stroke="#111" stroke-width="0.2" >37</text>
<text transform="translate(304.80 212.00) scale(1 1.08)" font-size="9.4" text-anchor="start" font-weight="normal" fill="#111" stroke="#111" stroke-width="0.2" font-family="'Liberation Serif', serif">&#176;C</text>
<rect x="518.2" y="211.6" width="157.5" height="34.9" fill="#111111"/>
<ellipse cx="533.0" cy="229.2" rx="11.5" ry="7.0" fill="url(#band)" opacity="1.0"/>
<ellipse cx="532.4" cy="229.0" rx="7.5" ry="4.3" fill="url(#band)" opacity="1.0"/>
<ellipse cx="556.5" cy="228.6" rx="12" ry="5.2" fill="url(#band)" opacity="0.17"/>
<ellipse cx="580.0" cy="228.4" rx="12" ry="5.2" fill="url(#band)" opacity="0.19"/>
<ellipse cx="607" cy="228.8" rx="10" ry="6" fill="url(#band)" opacity="0.05"/>
<ellipse cx="632" cy="228.8" rx="10" ry="6" fill="url(#band)" opacity="0.05"/>
<ellipse cx="658" cy="229" rx="10" ry="6" fill="url(#band)" opacity="0.03"/>
<rect x="518.2" y="256.1" width="157.5" height="29.7" fill="#111111"/>
<ellipse cx="534.2" cy="267.6" rx="13" ry="8" fill="url(#band)" opacity="0.42"/>
<ellipse cx="559.6" cy="267.8" rx="13" ry="8" fill="url(#band)" opacity="0.42"/>
<ellipse cx="582.5" cy="267.9" rx="12.5" ry="8" fill="url(#band)" opacity="0.42"/>
<ellipse cx="609.3" cy="268.3" rx="13" ry="8" fill="url(#band)" opacity="0.42"/>
<ellipse cx="632.9" cy="268.5" rx="13" ry="8" fill="url(#band)" opacity="0.42"/>
<ellipse cx="658.6" cy="269.8" rx="12.5" ry="8" fill="url(#band)" opacity="0.42"/>
<text transform="translate(515.40 232.40) scale(1 1.08)" font-size="9" text-anchor="end" font-weight="normal" fill="#111" stroke="#111" stroke-width="0.2" >Free miR-145</text>
<text transform="translate(515.70 271.90) scale(1 1.08)" font-size="9" text-anchor="end" font-weight="normal" fill="#111" stroke="#111" stroke-width="0.2" >LA-CMGL</text>
<text transform="translate(534.40 297.90) scale(1 1.08)" font-size="9" text-anchor="middle" font-weight="normal" fill="#111" stroke="#111" stroke-width="0.2" >0</text>
<text transform="translate(560.20 297.90) scale(1 1.08)" font-size="9" text-anchor="middle" font-weight="normal" fill="#111" stroke="#111" stroke-width="0.2" >2</text>
<text transform="translate(585.00 297.90) scale(1 1.08)" font-size="9" text-anchor="middle" font-weight="normal" fill="#111" stroke="#111" stroke-width="0.2" >6</text>
<text transform="translate(610.50 297.90) scale(1 1.08)" font-size="9" text-anchor="middle" font-weight="normal" fill="#111" stroke="#111" stroke-width="0.2" >8</text>
<text transform="translate(634.10 297.90) scale(1 1.08)" font-size="9" text-anchor="middle" font-weight="normal" fill="#111" stroke="#111" stroke-width="0.2" >12</text>
<text transform="translate(658.90 297.90) scale(1 1.08)" font-size="9" text-anchor="middle" font-weight="normal" fill="#111" stroke="#111" stroke-width="0.2" >24</text>
<text transform="translate(672.80 297.90) scale(1 1.08)" font-size="9" text-anchor="middle" font-weight="normal" fill="#111" stroke="#111" stroke-width="0.2" >(h)</text>
<text transform="translate(355.90 370.60) scale(1 1.08)" font-size="9" text-anchor="middle" font-weight="normal" fill="#111" stroke="#111" stroke-width="0.2" >Free-CPT</text>
<line x1="277.50" y1="465.90" x2="281.10" y2="465.90" stroke="#555" stroke-width="1.1" />
<text transform="translate(276.30 469.20) scale(1 1.08)" font-size="9" text-anchor="end" font-weight="normal" fill="#111" stroke="#111" stroke-width="0.2" >0</text>
<line x1="277.50" y1="448.54" x2="281.10" y2="448.54" stroke="#555" stroke-width="1.1" />
<text transform="translate(276.30 451.84) scale(1 1.08)" font-size="9" text-anchor="end" font-weight="normal" fill="#111" stroke="#111" stroke-width="0.2" >20</text>
<line x1="277.50" y1="431.18" x2="281.10" y2="431.18" stroke="#555" stroke-width="1.1" />
<text transform="translate(276.30 434.48) scale(1 1.08)" font-size="9" text-anchor="end" font-weight="normal" fill="#111" stroke="#111" stroke-width="0.2" >40</text>
<line x1="277.50" y1="413.82" x2="281.10" y2="413.82" stroke="#555" stroke-width="1.1" />
<text transform="translate(276.30 417.12) scale(1 1.08)" font-size="9" text-anchor="end" font-weight="normal" fill="#111" stroke="#111" stroke-width="0.2" >60</text>
<line x1="277.50" y1="396.46" x2="281.10" y2="396.46" stroke="#555" stroke-width="1.1" />
<text transform="translate(276.30 399.76) scale(1 1.08)" font-size="9" text-anchor="end" font-weight="normal" fill="#111" stroke="#111" stroke-width="0.2" >80</text>
<line x1="277.50" y1="379.10" x2="281.10" y2="379.10" stroke="#555" stroke-width="1.1" />
<text transform="translate(276.30 382.40) scale(1 1.08)" font-size="9" text-anchor="end" font-weight="normal" fill="#111" stroke="#111" stroke-width="0.2" >100</text>
<line x1="281.10" y1="465.90" x2="281.10" y2="468.90" stroke="#555" stroke-width="1.1" />
<text transform="translate(282.10 479.00) scale(1 1.08)" font-size="9" text-anchor="middle" font-weight="normal" fill="#111" stroke="#111" stroke-width="0.2" >0</text>
<line x1="312.04" y1="465.90" x2="312.04" y2="468.90" stroke="#555" stroke-width="1.1" />
<text transform="translate(313.04 479.00) scale(1 1.08)" font-size="9" text-anchor="middle" font-weight="normal" fill="#111" stroke="#111" stroke-width="0.2" >20</text>
<line x1="342.98" y1="465.90" x2="342.98" y2="468.90" stroke="#555" stroke-width="1.1" />
<text transform="translate(343.98 479.00) scale(1 1.08)" font-size="9" text-anchor="middle" font-weight="normal" fill="#111" stroke="#111" stroke-width="0.2" >40</text>
<line x1="373.92" y1="465.90" x2="373.92" y2="468.90" stroke="#555" stroke-width="1.1" />
<text transform="translate(374.92 479.00) scale(1 1.08)" font-size="9" text-anchor="middle" font-weight="normal" fill="#111" stroke="#111" stroke-width="0.2" >60</text>
<line x1="404.86" y1="465.90" x2="404.86" y2="468.90" stroke="#555" stroke-width="1.1" />
<text transform="translate(405.86 479.00) scale(1 1.08)" font-size="9" text-anchor="middle" font-weight="normal" fill="#111" stroke="#111" stroke-width="0.2" >80</text>
<line x1="435.80" y1="465.90" x2="435.80" y2="468.90" stroke="#555" stroke-width="1.1" />
<text transform="translate(436.80 479.00) scale(1 1.08)" font-size="9" text-anchor="middle" font-weight="normal" fill="#111" stroke="#111" stroke-width="0.2" >100</text>
<text transform="translate(361.50 489.30) scale(1 1.08)" font-size="9" text-anchor="middle" font-weight="normal" fill="#111" stroke="#111" stroke-width="0.2" >Time (hours)</text>
<text transform="translate(256.20 418.90) rotate(-90) scale(1 1.08)" font-size="9" text-anchor="middle" font-weight="normal" fill="#111" stroke="#111" stroke-width="0.2" >Cunulative Relesae (%)</text>
<polyline points="281.10,465.90 284.19,425.54 287.29,407.74 290.38,402.88 299.66,394.29 318.23,388.65 355.36,385.61 392.48,383.61 429.61,383.18" fill="none" stroke="#30c030" stroke-width="0.6" />
<polyline points="281.10,465.90 284.19,431.18 287.29,417.81 290.38,406.44 299.66,398.20 318.23,389.52 355.36,390.12 392.48,386.48 429.61,386.91" fill="none" stroke="#ff3a3a" stroke-width="0.6" />
<polyline points="281.10,465.90 284.19,431.18 287.29,414.86 290.38,405.40 299.66,399.06 318.23,392.12 355.36,388.13 392.48,386.91 429.61,386.48" fill="none" stroke="#3a3aff" stroke-width="0.6" />
<polygon points="281.10,462.77 283.60,468.02 278.60,468.02" fill="#00b400"/>
<polygon points="284.19,422.41 286.69,427.66 281.69,427.66" fill="#00b400"/>
<polygon points="287.29,404.62 289.79,409.87 284.79,409.87" fill="#00b400"/>
<polygon points="290.38,399.76 292.88,405.01 287.88,405.01" fill="#00b400"/>
<polygon points="299.66,391.17 302.16,396.42 297.16,396.42" fill="#00b400"/>
<polygon points="318.23,385.52 320.73,390.77 315.73,390.77" fill="#00b400"/>
<polygon points="355.36,382.49 357.86,387.74 352.86,387.74" fill="#00b400"/>
<polygon points="392.48,380.49 394.98,385.74 389.98,385.74" fill="#00b400"/>
<polygon points="429.61,380.05 432.11,385.30 427.11,385.30" fill="#00b400"/>
<rect x="278.90" y="463.70" width="4.40" height="4.40" fill="#ff0000"/>
<rect x="281.99" y="428.98" width="4.40" height="4.40" fill="#ff0000"/>
<rect x="285.09" y="415.61" width="4.40" height="4.40" fill="#ff0000"/>
<rect x="288.18" y="404.24" width="4.40" height="4.40" fill="#ff0000"/>
<rect x="297.46" y="396.00" width="4.40" height="4.40" fill="#ff0000"/>
<rect x="316.03" y="387.32" width="4.40" height="4.40" fill="#ff0000"/>
<rect x="353.16" y="387.92" width="4.40" height="4.40" fill="#ff0000"/>
<rect x="390.28" y="384.28" width="4.40" height="4.40" fill="#ff0000"/>
<rect x="427.41" y="384.71" width="4.40" height="4.40" fill="#ff0000"/>
<circle cx="281.10" cy="465.90" r="2.50" fill="#0000ff"/>
<circle cx="284.19" cy="431.18" r="2.50" fill="#0000ff"/>
<circle cx="287.29" cy="414.86" r="2.50" fill="#0000ff"/>
<circle cx="290.38" cy="405.40" r="2.50" fill="#0000ff"/>
<circle cx="299.66" cy="399.06" r="2.50" fill="#0000ff"/>
<circle cx="318.23" cy="392.12" r="2.50" fill="#0000ff"/>
<circle cx="355.36" cy="388.13" r="2.50" fill="#0000ff"/>
<circle cx="392.48" cy="386.91" r="2.50" fill="#0000ff"/>
<circle cx="429.61" cy="386.48" r="2.50" fill="#0000ff"/>
<rect x="281.1" y="379.1" width="154.7" height="86.79999999999995" fill="none" stroke="#555" stroke-width="1.2"/>
<line x1="388.40" y1="438.90" x2="399.60" y2="438.90" stroke="#3a3aff" stroke-width="0.7" />
<circle cx="394.00" cy="438.90" r="2.50" fill="#0000ff"/>
<text transform="translate(404.90 441.40) scale(1 1.08)" font-size="9" text-anchor="start" font-weight="normal" fill="#111" stroke="#111" stroke-width="0.2" >pH 4.5</text>
<line x1="388.40" y1="448.45" x2="399.60" y2="448.45" stroke="#ff3a3a" stroke-width="0.7" />
<rect x="391.80" y="446.25" width="4.40" height="4.40" fill="#ff0000"/>
<text transform="translate(404.90 450.95) scale(1 1.08)" font-size="9" text-anchor="start" font-weight="normal" fill="#111" stroke="#111" stroke-width="0.2" >pH 6.8</text>
<line x1="388.40" y1="458.00" x2="399.60" y2="458.00" stroke="#30c030" stroke-width="0.7" />
<polygon points="394.00,454.88 396.50,460.12 391.50,460.12" fill="#00b400"/>
<text transform="translate(404.90 460.50) scale(1 1.08)" font-size="9" text-anchor="start" font-weight="normal" fill="#111" stroke="#111" stroke-width="0.2" >pH 7.4</text>
<text transform="translate(597.90 370.60) scale(1 1.08)" font-size="9" text-anchor="middle" font-weight="normal" fill="#111" stroke="#111" stroke-width="0.2" >LA-CMGL-CPT</text>
<line x1="513.20" y1="466.50" x2="516.80" y2="466.50" stroke="#2a2a2a" stroke-width="1.1" />
<text transform="translate(512.90 468.60) scale(1 1.08)" font-size="9" text-anchor="end" font-weight="normal" fill="#111" stroke="#111" stroke-width="0.2" >0</text>
<line x1="513.20" y1="448.72" x2="516.80" y2="448.72" stroke="#2a2a2a" stroke-width="1.1" />
<text transform="translate(512.90 450.82) scale(1 1.08)" font-size="9" text-anchor="end" font-weight="normal" fill="#111" stroke="#111" stroke-width="0.2" >20</text>
<line x1="513.20" y1="430.94" x2="516.80" y2="430.94" stroke="#2a2a2a" stroke-width="1.1" />
<text transform="translate(512.90 433.04) scale(1 1.08)" font-size="9" text-anchor="end" font-weight="normal" fill="#111" stroke="#111" stroke-width="0.2" >40</text>
<line x1="513.20" y1="413.16" x2="516.80" y2="413.16" stroke="#2a2a2a" stroke-width="1.1" />
<text transform="translate(512.90 415.26) scale(1 1.08)" font-size="9" text-anchor="end" font-weight="normal" fill="#111" stroke="#111" stroke-width="0.2" >60</text>
<line x1="513.20" y1="395.38" x2="516.80" y2="395.38" stroke="#2a2a2a" stroke-width="1.1" />
<text transform="translate(512.90 397.48) scale(1 1.08)" font-size="9" text-anchor="end" font-weight="normal" fill="#111" stroke="#111" stroke-width="0.2" >80</text>
<line x1="513.20" y1="377.60" x2="516.80" y2="377.60" stroke="#2a2a2a" stroke-width="1.1" />
<text transform="translate(512.90 379.70) scale(1 1.08)" font-size="9" text-anchor="end" font-weight="normal" fill="#111" stroke="#111" stroke-width="0.2" >100</text>
<line x1="516.80" y1="466.50" x2="516.80" y2="469.50" stroke="#2a2a2a" stroke-width="1.1" />
<text transform="translate(517.80 479.00) scale(1 1.08)" font-size="9" text-anchor="middle" font-weight="normal" fill="#111" stroke="#111" stroke-width="0.2" >0</text>
<line x1="548.84" y1="466.50" x2="548.84" y2="469.50" stroke="#2a2a2a" stroke-width="1.1" />
<text transform="translate(549.84 479.00) scale(1 1.08)" font-size="9" text-anchor="middle" font-weight="normal" fill="#111" stroke="#111" stroke-width="0.2" >20</text>
<line x1="580.88" y1="466.50" x2="580.88" y2="469.50" stroke="#2a2a2a" stroke-width="1.1" />
<text transform="translate(581.88 479.00) scale(1 1.08)" font-size="9" text-anchor="middle" font-weight="normal" fill="#111" stroke="#111" stroke-width="0.2" >40</text>
<line x1="612.92" y1="466.50" x2="612.92" y2="469.50" stroke="#2a2a2a" stroke-width="1.1" />
<text transform="translate(613.92 479.00) scale(1 1.08)" font-size="9" text-anchor="middle" font-weight="normal" fill="#111" stroke="#111" stroke-width="0.2" >60</text>
<line x1="644.96" y1="466.50" x2="644.96" y2="469.50" stroke="#2a2a2a" stroke-width="1.1" />
<text transform="translate(645.96 479.00) scale(1 1.08)" font-size="9" text-anchor="middle" font-weight="normal" fill="#111" stroke="#111" stroke-width="0.2" >80</text>
<line x1="677.00" y1="466.50" x2="677.00" y2="469.50" stroke="#2a2a2a" stroke-width="1.1" />
<text transform="translate(678.00 479.00) scale(1 1.08)" font-size="9" text-anchor="middle" font-weight="normal" fill="#111" stroke="#111" stroke-width="0.2" >100</text>
<text transform="translate(600.40 489.30) scale(1 1.08)" font-size="9" text-anchor="middle" font-weight="normal" fill="#111" stroke="#111" stroke-width="0.2" >Time (hours)</text>
<text transform="translate(492.10 414.90) rotate(-90) scale(1 1.08)" font-size="9" text-anchor="middle" font-weight="normal" fill="#111" stroke="#111" stroke-width="0.2" >Cunulative Relesae (%)</text>
<polyline points="516.80,466.50 520.00,458.32 523.21,448.99 526.41,439.74 536.02,435.47 555.25,433.34 593.70,430.76 632.14,429.78 670.59,427.12" fill="none" stroke="#30c030" stroke-width="0.6" />
<polyline points="516.80,466.50 520.00,454.50 523.21,444.10 526.41,431.83 536.02,425.52 555.25,421.61 593.70,417.16 632.14,416.09 670.59,414.23" fill="none" stroke="#ff3a3a" stroke-width="0.6" />
<polyline points="516.80,466.50 520.00,448.19 523.21,434.32 526.41,420.09 536.02,408.54 555.25,402.58 593.70,399.74 632.14,399.29 670.59,397.16" fill="none" stroke="#3a3aff" stroke-width="0.6" />
<polygon points="516.80,463.12 519.50,468.80 514.10,468.80" fill="#00b400"/>
<polygon points="520.00,454.95 522.70,460.62 517.30,460.62" fill="#00b400"/>
<polygon points="523.21,445.61 525.91,451.28 520.51,451.28" fill="#00b400"/>
<polygon points="526.41,436.37 529.11,442.04 523.71,442.04" fill="#00b400"/>
<polygon points="536.02,432.10 538.72,437.77 533.32,437.77" fill="#00b400"/>
<polygon points="555.25,429.97 557.95,435.64 552.55,435.64" fill="#00b400"/>
<polygon points="593.70,427.39 596.40,433.06 591.00,433.06" fill="#00b400"/>
<polygon points="632.14,426.41 634.84,432.08 629.44,432.08" fill="#00b400"/>
<polygon points="670.59,423.74 673.29,429.41 667.89,429.41" fill="#00b400"/>
<rect x="514.42" y="464.12" width="4.75" height="4.75" fill="#ff0000"/>
<rect x="517.63" y="452.12" width="4.75" height="4.75" fill="#ff0000"/>
<rect x="520.83" y="441.72" width="4.75" height="4.75" fill="#ff0000"/>
<rect x="524.04" y="429.45" width="4.75" height="4.75" fill="#ff0000"/>
<rect x="533.65" y="423.14" width="4.75" height="4.75" fill="#ff0000"/>
<rect x="552.87" y="419.23" width="4.75" height="4.75" fill="#ff0000"/>
<rect x="591.32" y="414.78" width="4.75" height="4.75" fill="#ff0000"/>
<rect x="629.77" y="413.72" width="4.75" height="4.75" fill="#ff0000"/>
<rect x="668.22" y="411.85" width="4.75" height="4.75" fill="#ff0000"/>
<circle cx="516.80" cy="466.50" r="2.70" fill="#0000ff"/>
<circle cx="520.00" cy="448.19" r="2.70" fill="#0000ff"/>
<circle cx="523.21" cy="434.32" r="2.70" fill="#0000ff"/>
<circle cx="526.41" cy="420.09" r="2.70" fill="#0000ff"/>
<circle cx="536.02" cy="408.54" r="2.70" fill="#0000ff"/>
<circle cx="555.25" cy="402.58" r="2.70" fill="#0000ff"/>
<circle cx="593.70" cy="399.74" r="2.70" fill="#0000ff"/>
<circle cx="632.14" cy="399.29" r="2.70" fill="#0000ff"/>
<circle cx="670.59" cy="397.16" r="2.70" fill="#0000ff"/>
<rect x="516.8" y="377.6" width="160.20000000000005" height="88.89999999999998" fill="none" stroke="#2a2a2a" stroke-width="1.2"/>
<line x1="628.20" y1="439.50" x2="639.40" y2="439.50" stroke="#3a3aff" stroke-width="0.7" />
<circle cx="633.80" cy="439.50" r="2.50" fill="#0000ff"/>
<text transform="translate(646.00 442.40) scale(1 1.08)" font-size="9" text-anchor="start" font-weight="normal" fill="#111" stroke="#111" stroke-width="0.2" >pH 4.5</text>
<line x1="628.20" y1="449.50" x2="639.40" y2="449.50" stroke="#ff3a3a" stroke-width="0.7" />
<rect x="631.60" y="447.30" width="4.40" height="4.40" fill="#ff0000"/>
<text transform="translate(646.00 452.40) scale(1 1.08)" font-size="9" text-anchor="start" font-weight="normal" fill="#111" stroke="#111" stroke-width="0.2" >pH 6.8</text>
<line x1="628.20" y1="459.50" x2="639.40" y2="459.50" stroke="#30c030" stroke-width="0.7" />
<polygon points="633.80,456.38 636.30,461.62 631.30,461.62" fill="#00b400"/>
<text transform="translate(646.00 462.40) scale(1 1.08)" font-size="9" text-anchor="start" font-weight="normal" fill="#111" stroke="#111" stroke-width="0.2" >pH 7.4</text>
</svg>
</body></html>
